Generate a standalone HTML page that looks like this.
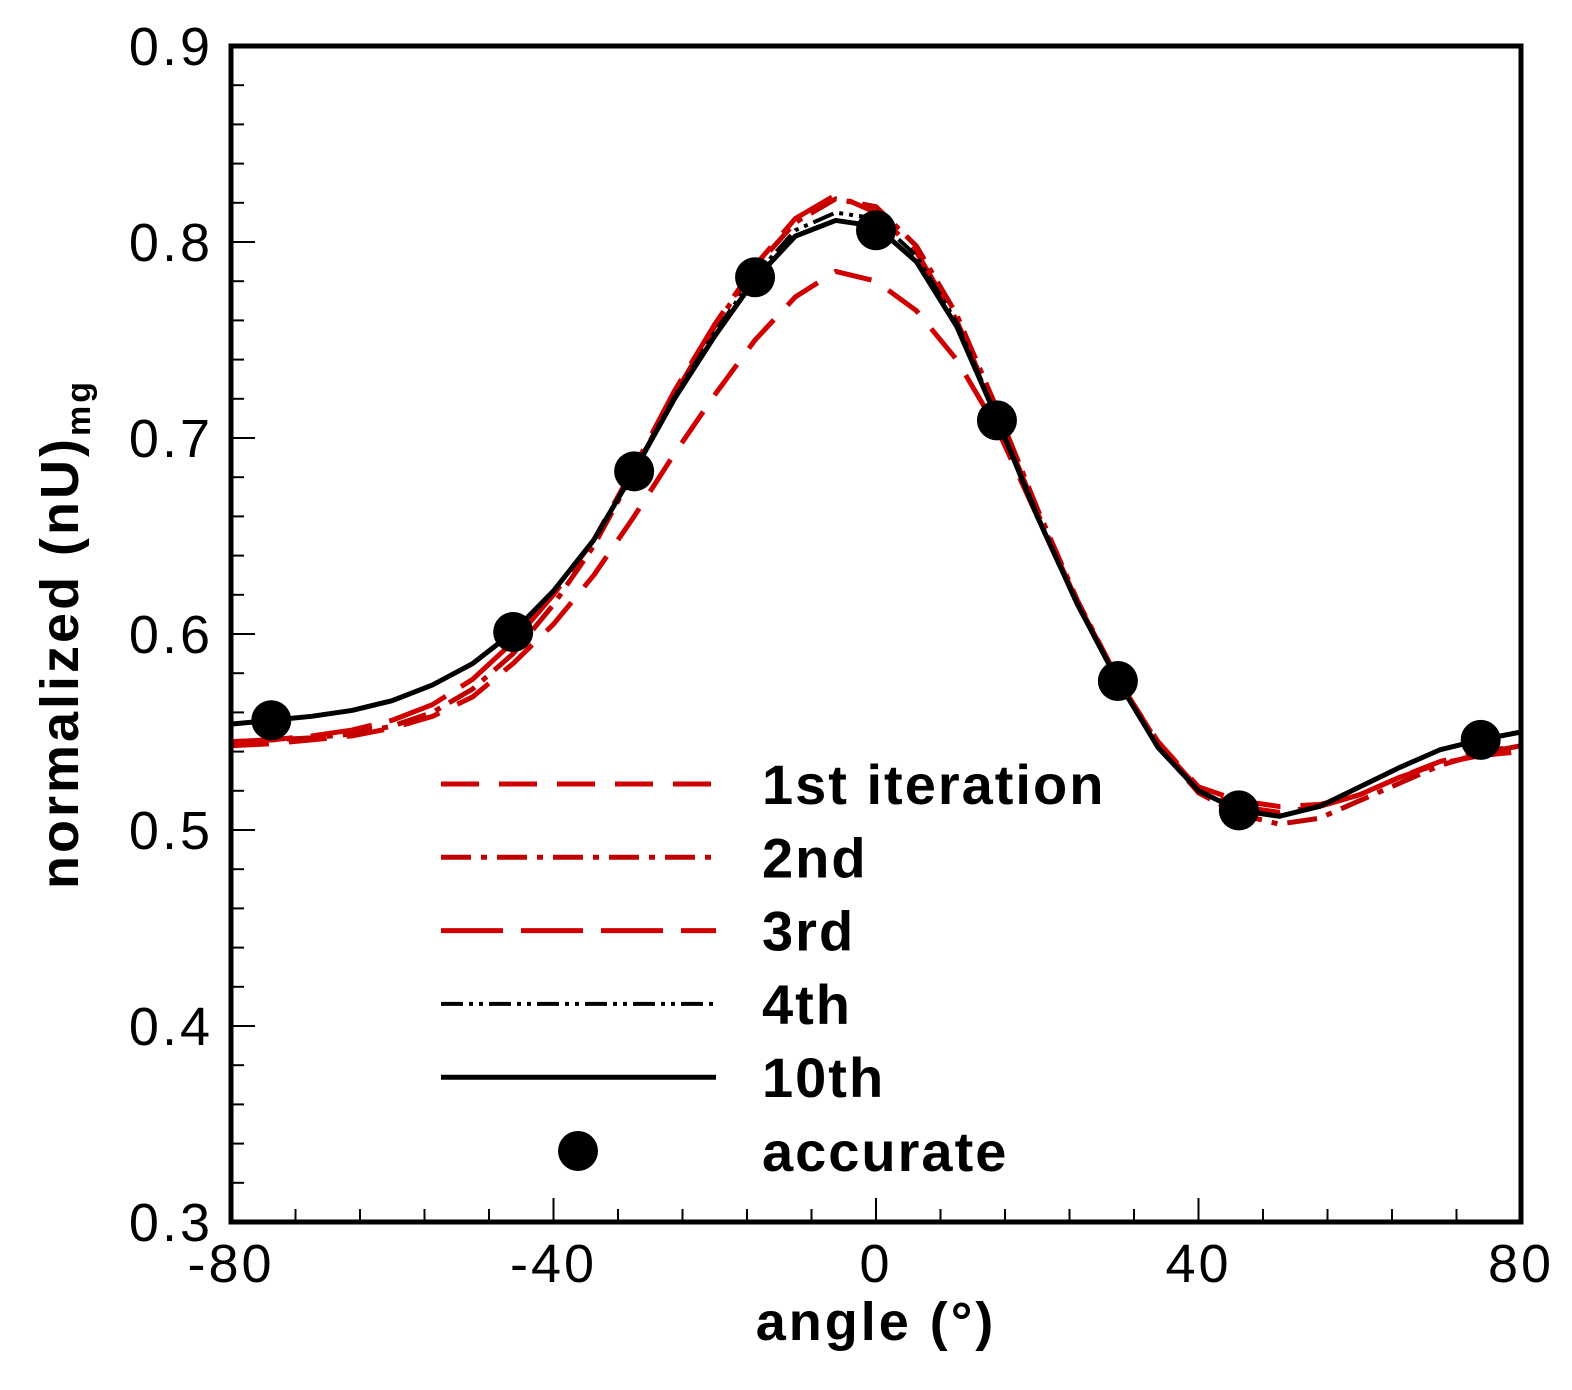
<!DOCTYPE html>
<html><head><meta charset="utf-8"><style>
body{margin:0;background:#fff}
svg text{font-family:"Liberation Sans",sans-serif}
</style></head><body>
<svg id="chart" width="1572" height="1385" viewBox="0 0 1572 1385">
<g id="grid"></g>
<g id="series"></g>
<rect x="231" y="46" width="1290" height="1176" fill="none" stroke="#000" stroke-width="5"/>
<text x="876" y="1340" font-size="54" font-weight="bold" letter-spacing="3" text-anchor="middle">angle (°)</text>
<text transform="translate(78,634) rotate(-90)" font-size="54" font-weight="bold" letter-spacing="3" text-anchor="middle">normalized (nU)<tspan font-size="34" dy="12">mg</tspan></text>
<g id="legend"></g>
</svg>
<script>
const angles=[-80,-75,-70,-65,-60,-55,-50,-45,-40,-35,-30,-25,-20,-15,-10,-5,0,5,10,15,20,25,30,35,40,45,50,55,60,65,70,75,80];
const it1=[0.543,0.544,0.546,0.548,0.552,0.558,0.568,0.585,0.605,0.630,0.660,0.692,0.722,0.750,0.772,0.785,0.780,0.765,0.740,0.705,0.660,0.615,0.576,0.545,0.522,0.515,0.512,0.513,0.518,0.527,0.535,0.540,0.543];
const it2=[0.545,0.546,0.547,0.549,0.553,0.560,0.572,0.590,0.615,0.645,0.683,0.722,0.757,0.787,0.810,0.822,0.818,0.798,0.763,0.715,0.664,0.617,0.577,0.543,0.519,0.508,0.503,0.506,0.515,0.524,0.533,0.539,0.543];
const it3=[0.545,0.546,0.548,0.551,0.556,0.564,0.577,0.596,0.620,0.648,0.685,0.724,0.758,0.788,0.812,0.824,0.815,0.795,0.760,0.712,0.662,0.616,0.577,0.544,0.521,0.512,0.509,0.512,0.518,0.527,0.534,0.538,0.540];
const it4=[0.554,0.556,0.558,0.561,0.566,0.574,0.585,0.601,0.622,0.648,0.684,0.721,0.754,0.783,0.806,0.815,0.812,0.793,0.759,0.711,0.661,0.615,0.576,0.542,0.520,0.510,0.507,0.512,0.522,0.532,0.541,0.546,0.550];
const it10=[0.554,0.556,0.558,0.561,0.566,0.574,0.585,0.601,0.622,0.648,0.683,0.720,0.752,0.781,0.803,0.811,0.808,0.790,0.757,0.710,0.660,0.615,0.576,0.542,0.520,0.510,0.507,0.512,0.522,0.532,0.541,0.546,0.550];
const accX=[-75,-45,-30,-15,0,15,30,45,75];
const accY=[0.556,0.601,0.683,0.782,0.806,0.709,0.576,0.510,0.546];
const xTicks=[-80,-40,0,40,80];
const yTicks=[0.3,0.4,0.5,0.6,0.7,0.8,0.9];
const NS="http://www.w3.org/2000/svg";
const X=v=>231+(v+80)/160*1290;
const Y=v=>1222-(v-0.3)/0.6*1176;
const grid=document.getElementById('grid'),ser=document.getElementById('series'),leg=document.getElementById('legend');
function mk(t,a,p){const e=document.createElementNS(NS,t);for(const k in a)e.setAttribute(k,a[k]);p.appendChild(e);return e;}
for(let v=-80;v<=80;v+=8){const big=v%40===0;const l=mk('line',{x1:X(v),x2:X(v),y1:1222,y2:1222-(big?24:13),stroke:'#000','stroke-width':2},grid);

}
for(let i=0;i<=30;i++){const v=0.3+i*0.02;const big=i%5===0;const l=mk('line',{x1:231,x2:231+(big?24:13),y1:Y(v),y2:Y(v),stroke:'#000','stroke-width':2},grid);

}
xTicks.forEach(v=>{const t=mk('text',{x:X(v),y:1282,'font-size':54,'letter-spacing':3,'text-anchor':'middle'},grid);t.textContent=v;

});
yTicks.forEach(v=>{const t=mk('text',{x:213,y:Y(v)+19,'font-size':54,'letter-spacing':3,'text-anchor':'end'},grid);t.textContent=v.toFixed(1);

});
const defs=[
 {d:it1,c:'#d00000',da:'38 20',w:5,n:'1st iteration'},
 {d:it2,c:'#c00000',da:'30 10 6 10',w:5,n:'2nd'},
 {d:it3,c:'#d00000',da:'62 18',w:5,n:'3rd'},
 {d:it4,c:'#000',da:'22 6 4 6 4 6',w:4,n:'4th'},
 {d:it10,c:'#000',da:'none',w:5,n:'10th'}];
defs.forEach((s,k)=>{
 const p=mk('polyline',{points:angles.map((a,i)=>X(a)+','+Y(s.d[i])).join(' '),fill:'none',stroke:s.c,'stroke-width':s.w,'stroke-dasharray':s.da,'stroke-linejoin':'round'},ser);
 
 
 const y=784+k*73.3;
 const l=mk('line',{x1:441,x2:716,y1:y,y2:y,stroke:s.c,'stroke-width':s.w,'stroke-dasharray':s.da},leg);
 
 
 const t=mk('text',{x:762,y:y+20,'font-size':56,'font-weight':'bold','letter-spacing':2},leg);t.textContent=s.n;
 
 
});
accX.forEach((a,i)=>{const c=mk('circle',{cx:X(a),cy:Y(accY[i]),r:20,fill:'#000'},ser);

});
const lc=mk('circle',{cx:578,cy:1151,r:20,fill:'#000'},leg);


const lt=mk('text',{x:762,y:1171,'font-size':56,'font-weight':'bold','letter-spacing':2},leg);lt.textContent='accurate';


</script>
</body></html>
